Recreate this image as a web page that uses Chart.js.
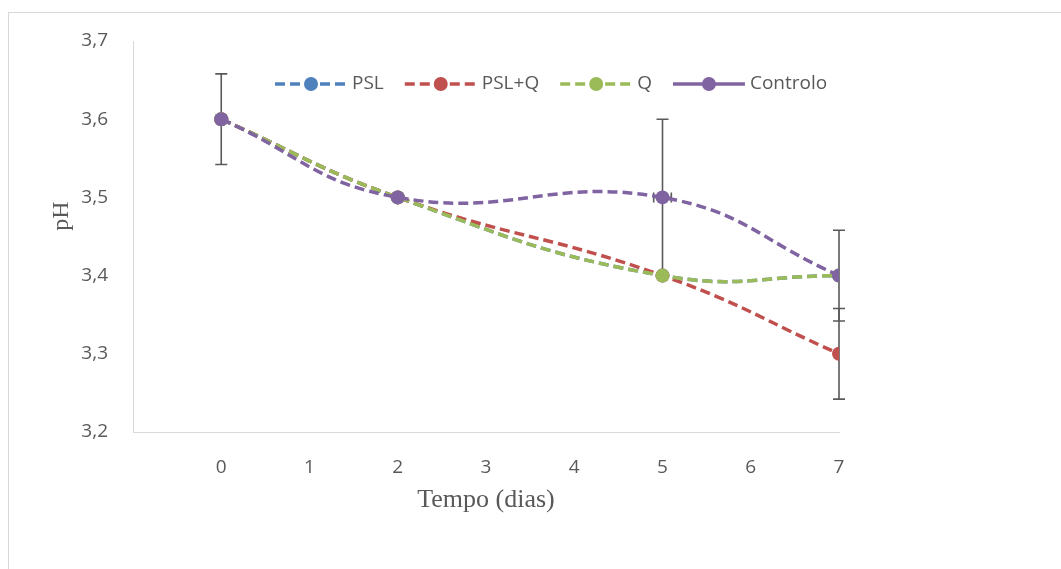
<!DOCTYPE html>
<html>
<head>
<meta charset="utf-8">
<script src="https://cdn.jsdelivr.net/npm/chart.js@4.4.1/dist/chart.umd.min.js"></script>
<style>
  html, body { margin: 0; padding: 0; background: #fff; }
  #moldura { position: absolute; left: 8px; top: 12px; right: 0; bottom: 0;
             border-top: 1px solid #d9d9d9; border-left: 1px solid #d9d9d9; }
  #wrap { position: absolute; left: 0; top: 0; width: 1061px; height: 569px; }
</style>
</head>
<body>
<div id="moldura"></div>
<div id="wrap"><canvas id="grafico"></canvas></div>
<script>
// dias de armazenamento e pH medido
const dias = [0, 2, 5, 7];
const series = ['PSL', 'PSL+Q', 'Q', 'Controlo'];
const phPSL = [3.6, 3.5, 3.4, 3.4];
const phPSLQ = [3.6, 3.5, 3.4, 3.3];
const phQ = [3.6, 3.5, 3.4, 3.4];
const phControlo = [3.6, 3.5, 3.5, 3.4];

// desvio padrão (barras de erro)
const erroPSL = [0.058, 0, 0, 0.058];
const erroPSLQ = [0, 0, 0, 0.058];
const erroQ = [0, 0, 0, 0];
const erroControlo = [0, 0, 0.1, 0];
const erroXControlo = [0, 0, 0.1, 0];   // erro horizontal no dia 5

const cores = ['#4F81BD', '#C0504D', '#9BBB59', '#8064A2'];
const legendaTracejada = [true, true, true, false];
const ticksX = [0, 1, 2, 3, 4, 5, 6, 7];
const ticksY = [3.2, 3.3, 3.4, 3.5, 3.6, 3.7];

const valores = [phPSL, phPSLQ, phQ, phControlo];
const erros = [erroPSL, erroPSLQ, erroQ, erroControlo];
const errosX = [null, null, null, erroXControlo];

const traco = [10, 5];

const datasets = series.map((nome, k) => ({
  label: nome,
  data: dias.map((d, i) => ({ x: d, y: valores[k][i] })),
  erroY: erros[k],
  erroX: errosX[k],
  borderColor: cores[k],
  backgroundColor: cores[k],
  borderWidth: 3.5,
  borderDash: traco,
  tension: 0.45,
  pointRadius: 7,
  pointBorderWidth: 0,
  pointBackgroundColor: cores[k],
  order: series.length - 1 - k      // Controlo por cima
}));

// barras de erro (por baixo dos marcadores)
const barrasErro = {
  id: 'barrasErro',
  beforeDatasetsDraw(chart) {
    const { ctx, scales: { x, y } } = chart;
    ctx.save();
    ctx.strokeStyle = '#595959';
    ctx.lineWidth = 1.6;
    chart.data.datasets.forEach(ds => {
      ds.data.forEach((p, i) => {
        const px = x.getPixelForValue(p.x);
        const py = y.getPixelForValue(p.y);
        const ey = ds.erroY ? ds.erroY[i] : 0;
        if (ey) {
          const y1 = y.getPixelForValue(p.y + ey), y2 = y.getPixelForValue(p.y - ey);
          ctx.beginPath();
          ctx.moveTo(px, y1); ctx.lineTo(px, y2);
          ctx.moveTo(px - 6, y1); ctx.lineTo(px + 6, y1);
          ctx.moveTo(px - 6, y2); ctx.lineTo(px + 6, y2);
          ctx.stroke();
        }
        const ex = ds.erroX ? ds.erroX[i] : 0;
        if (ex) {
          const x1 = x.getPixelForValue(p.x - ex), x2 = x.getPixelForValue(p.x + ex);
          ctx.beginPath();
          ctx.moveTo(x1, py); ctx.lineTo(x2, py);
          ctx.moveTo(x1, py - 5); ctx.lineTo(x1, py + 5);
          ctx.moveTo(x2, py - 5); ctx.lineTo(x2, py + 5);
          ctx.stroke();
        }
      });
    });
    ctx.restore();
  }
};

// legenda dentro da área do gráfico + título do eixo y
const legenda = {
  id: 'legenda',
  afterDraw(chart) {
    const { ctx, chartArea } = chart;
    ctx.save();
    ctx.font = '19px "Open Sans"';
    ctx.textBaseline = 'middle';
    let xx = chartArea.left + 142;
    const yy = chartArea.top + 43;
    series.forEach((nome, k) => {
      ctx.strokeStyle = cores[k];
      ctx.fillStyle = cores[k];
      ctx.lineWidth = 3.5;
      ctx.setLineDash(legendaTracejada[k] ? traco : []);
      ctx.beginPath();
      ctx.moveTo(xx, yy); ctx.lineTo(xx + 72, yy);
      ctx.stroke();
      ctx.beginPath();
      ctx.arc(xx + 36, yy, 7, 0, Math.PI * 2);
      ctx.fill();
      ctx.fillStyle = '#595959';
      ctx.fillText(nome, xx + 77, yy);
      xx += 77 + ctx.measureText(nome).width + 21;
    });
    ctx.setLineDash([]);
    ctx.font = '24px "Liberation Serif"';
    ctx.fillStyle = '#595959';
    ctx.textAlign = 'center';
    ctx.translate(62, 216);
    ctx.rotate(-Math.PI / 2);
    ctx.fillText('pH', 0, 0);
    ctx.restore();
  }
};

new Chart('grafico', {
  type: 'line',
  data: { datasets },
  options: {
    responsive: true,
    maintainAspectRatio: false,
    animation: false,
    layout: { padding: { left: 0, right: 222, top: 41, bottom: 37 } },
    plugins: { legend: { display: false }, tooltip: { enabled: false } },
    scales: {
      x: {
        type: 'linear', min: -1, max: 7,
        afterFit: s => { s.height = 100; },
        afterBuildTicks: s => { s.ticks = ticksX.map(v => ({ value: v })); },
        grid: { display: false },
        border: { display: true, color: '#d9d9d9', width: 1 },
        ticks: { color: '#595959', font: { family: 'Open Sans', size: 19 }, padding: 16 },
        title: { display: true, text: 'Tempo (dias)', color: '#595959',
                 font: { family: 'Liberation Serif', size: 26 }, padding: { top: 0, bottom: 16 } }
      },
      y: {
        min: 3.2, max: 3.7,
        afterFit: s => { s.width = 133; },
        afterBuildTicks: s => { s.ticks = ticksY.map(v => ({ value: v })); },
        grid: { display: false },
        border: { display: true, color: '#d9d9d9', width: 1 },
        ticks: { color: '#595959', font: { family: 'Open Sans', size: 19 }, padding: 17,
                 callback: v => v.toFixed(1).replace('.', ',') }
      }
    }
  },
  plugins: [barrasErro, legenda]
});
</script>
</body>
</html>
